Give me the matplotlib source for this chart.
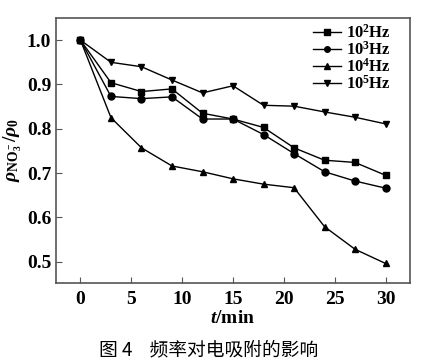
import matplotlib
matplotlib.use("Agg")
import matplotlib.pyplot as plt

plt.rcParams["font.family"] = ["Liberation Serif", "DejaVu Serif"]
plt.rcParams["font.weight"] = "bold"
plt.rcParams["mathtext.fontset"] = "custom"
plt.rcParams["mathtext.rm"] = "Liberation Serif:bold"
plt.rcParams["mathtext.it"] = "Liberation Serif:bold:italic"
plt.rcParams["mathtext.bf"] = "Liberation Serif:bold"

t = [0, 3, 6, 9, 12, 15, 18, 21, 24, 27, 30]
hz_1e2 = [1.0, 0.904, 0.884, 0.890, 0.835, 0.822, 0.803, 0.757, 0.729, 0.724, 0.695]
hz_1e3 = [1.0, 0.873, 0.868, 0.872, 0.822, 0.822, 0.787, 0.744, 0.703, 0.682, 0.666]
hz_1e4 = [1.0, 0.825, 0.757, 0.716, 0.703, 0.687, 0.675, 0.667, 0.579, 0.528, 0.496]
hz_1e5 = [1.0, 0.950, 0.940, 0.910, 0.881, 0.897, 0.853, 0.851, 0.838, 0.826, 0.811]

series = [
    (hz_1e2, "s", "10$^2$Hz"),
    (hz_1e3, "o", "10$^3$Hz"),
    (hz_1e4, "^", "10$^4$Hz"),
    (hz_1e5, "v", "10$^5$Hz"),
]

fig = plt.figure(figsize=(4.38, 3.6), dpi=100)
ax = fig.add_axes([0.128, 0.214, 0.808, 0.736])

for vals, mk, lab in series:
    ax.plot(t, vals, color="black", lw=1.0, marker=mk, ms=5, label=lab)

ax.set_xlim(-2.4, 32.4)
ax.set_ylim(0.452, 1.05)
ax.set_xticks([0, 5, 10, 15, 20, 25, 30])
ax.set_yticks([0.5, 0.6, 0.7, 0.8, 0.9, 1.0])
ax.set_yticklabels(["0.5", "0.6", "0.7", "0.8", "0.9", "1.0"])
ax.tick_params(direction="in", length=4, labelsize=14, color="#555555")
ax.tick_params(axis="x", pad=6)
for lbl in ax.get_xticklabels() + ax.get_yticklabels():
    lbl.set_fontweight("bold")
for sp in ax.spines.values():
    sp.set_color("#555555")
    sp.set_linewidth(1.2)

ax.set_xlabel("$t$/min", fontsize=14, fontweight="bold", labelpad=1)
ax.set_ylabel(r"$\rho_{\mathrm{NO}_3^-}/\rho_0$", fontsize=14, labelpad=2)

ax.legend(loc="upper right", bbox_to_anchor=(0.955, 0.99), frameon=False,
          handlelength=1.7, markerscale=0.8, handletextpad=0.3,
          labelspacing=-0.05, borderaxespad=0, borderpad=0.2,
          prop={"weight": "bold", "size": 12})

fig.text(0.477, 0.028, "图 4    频率对电吸附的影响", ha="center", va="center",
         fontsize=13.5, family=["Noto Sans CJK SC", "DejaVu Sans"], fontweight="normal")

fig.savefig("out.png", dpi=100)
